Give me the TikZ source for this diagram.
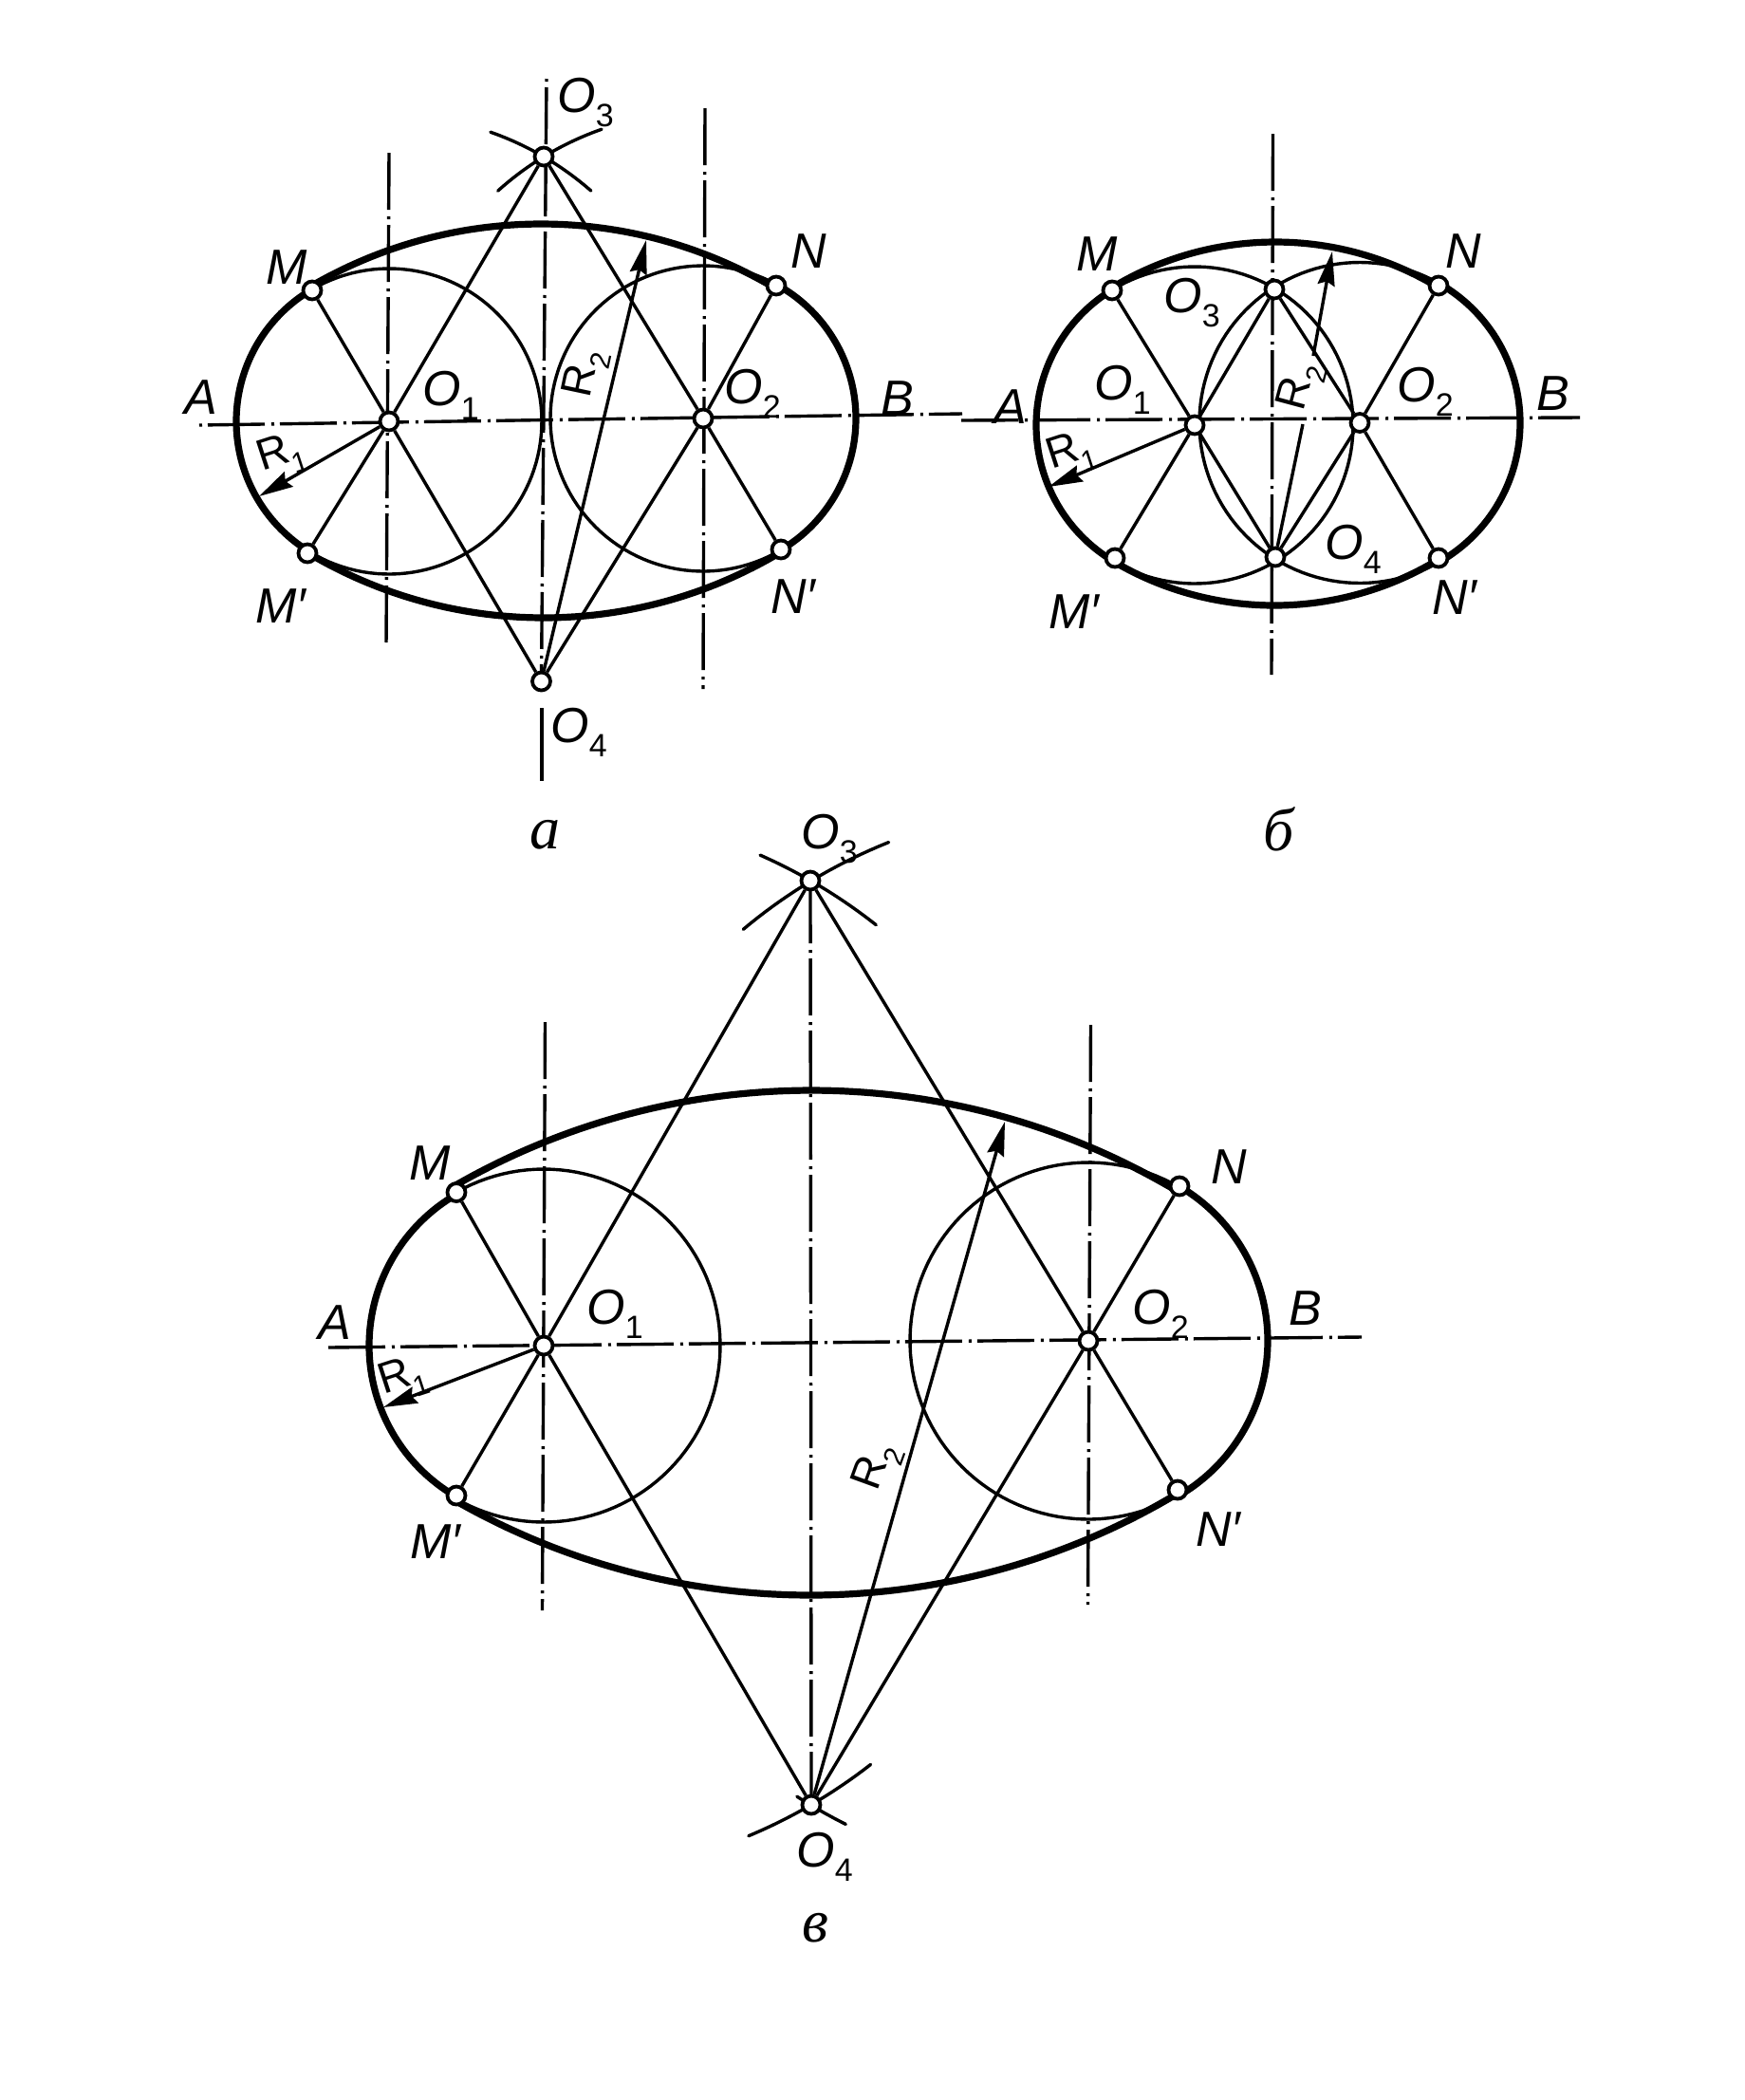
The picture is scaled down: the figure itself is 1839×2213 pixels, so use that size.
\documentclass[tikz,border=0pt]{standalone}
\usepackage{fontspec}
\setmainfont{Liberation Sans}
\newfontfamily\capfont{Liberation Serif}
\usetikzlibrary{arrows.meta}
\newcommand{\parc}[8][arcthin]{%
  \pgfmathsetmacro\sa{atan2(#6-#3,#5-#2)}%
  \pgfmathsetmacro\ea{atan2(#8-#3,#7-#2)}%
  \pgfmathsetmacro\ea{\ea<\sa ? \ea+360 : \ea}%
  \draw[#1] plot[domain=\sa:\ea,samples=90,variable=\t] ({#2+#4*cos(\t)},{#3+#4*sin(\t)});}
\newcommand{\Ol}[2]{\textit{#1}\raisebox{-0.3em}{\fontsize{17}{17}\selectfont #2}}
\newcommand{\Rl}[1]{R\raisebox{-0.3em}{\fontsize{15}{15}\selectfont #1}}
\tikzset{
  arcthin/.style={line width=1.7pt,line cap=round,line join=round},
  arcthick/.style={line width=3.6pt,line cap=round,line join=round},
  axisline/.style={line width=1.7pt,dash pattern=on 30pt off 3.5pt on 1.5pt off 3pt},
  conn/.style={line width=1.7pt},
  dimarrow/.style={line width=1.7pt,-{Stealth[length=18pt,width=9pt,inset=2pt]}},
  ptnode/.style={circle,draw,fill=white,line width=1.9pt,inner sep=0pt,minimum size=9.5pt},
  lbl/.style={font=\fontsize{26}{26}\selectfont\itshape,inner sep=0pt},
  sublbl/.style={font=\fontsize{26}{26}\selectfont,inner sep=0pt},
  rlbl/.style={font=\fontsize{23}{23}\selectfont,inner sep=0pt},
  caplbl/.style={font=\fontsize{32}{32}\selectfont\capfont\itshape,inner sep=0pt},
}
\begin{document}
\begin{tikzpicture}[x=0.5pt,y=-0.5pt]
\useasboundingbox (0,0) rectangle (1839,2213);
%% figure a --------------------------------------------------
\coordinate (aHl) at (210,448); \coordinate (aHr) at (1014,436);
\coordinate (aV1t) at (410,161); \coordinate (aV1b) at (407,682);
\coordinate (aV2t) at (743,114); \coordinate (aV2b) at (741,726);
\coordinate (aV3t) at (576,83);  \coordinate (aV3b) at (571,823);
\coordinate (aV3m) at (571,746);
\draw[axisline,dash phase=33.5pt] (aHl) -- (aHr);
\draw[axisline] (aV1t) -- (aV1b);
\draw[axisline] (aV2t) -- (aV2b);
\draw[axisline,dash phase=33.5pt] (aV3t) -- (570.5,718);
\draw[conn] (aV3m) -- (aV3b);
\parc{410}{444}{161}{329}{306}{324}{583}
\parc{741}{441}{161}{823}{579}{818}{301}
\parc[arcthick]{410}{444}{161}{324}{583}{329}{306}
\parc[arcthick]{741}{441}{161}{818}{301}{823}{579}
\parc[arcthick]{570.5}{718}{482}{329}{306}{818}{301}
\parc[arcthick]{573}{165}{486}{823}{579}{324}{583}
\parc{741}{441}{323}{521}{197}{635}{139}
\parc{410}{444}{323}{518}{136}{622}{202}
\node[ptnode] (aO1) at (410,444) {};
\node[ptnode] (aO2) at (741,441) {};
\node[ptnode] (aO3) at (573,165) {};
\node[ptnode] (aO4) at (570.5,718) {};
\node[ptnode] (aM) at (329,306) {};
\node[ptnode] (aN) at (818,301) {};
\node[ptnode] (aMp) at (324,583) {};
\node[ptnode] (aNp) at (823,579) {};
\coordinate (aR1t) at (273,523); \coordinate (aR2t) at (681,253);
\foreach \p/\q in {aM/aO1,aO1/aO4,aMp/aO1,aO1/aO3,aN/aO2,aO2/aO4,aNp/aO2,aO2/aO3}
  \draw[conn] (\p) -- (\q);
\draw[dimarrow] (aO1) -- (aR1t);
\draw[dimarrow] (aO4) -- (aR2t);
\node[sublbl] (alO3) at (617,108) {\Ol{O}{3}};
\node[sublbl] (alO4) at (610,772) {\Ol{O}{4}};
\node[sublbl] (alO1) at (475,417) {\Ol{O}{1}};
\node[sublbl] (alO2) at (793,415) {\Ol{O}{2}};
\node[lbl] (alM) at (302,282) {M};
\node[lbl] (alN) at (852,265) {N};
\node[lbl] (alMp) at (296,639) {M′};
\node[lbl] (alNp) at (836,629) {N′};
\node[lbl] (alA) at (212,419) {A};
\node[lbl] (alB) at (946,420) {B};
\node[rlbl,rotate=18] (alR1) at (297,480) {\Rl{1}};
\node[rlbl,rotate=78] (alR2) at (618,394) {\Rl{2}};
\node[caplbl] (capa) at (574,880) {а};
%% figure b --------------------------------------------------
\coordinate (bHl) at (1013,443); \coordinate (bHr) at (1665,440);
\coordinate (bVt) at (1341.5,141); \coordinate (bVb) at (1340,711);
\draw[axisline] (bHl) -- (bHr);
\draw[axisline] (bVt) -- (bVb);
\parc{1259}{448}{167}{1172}{306}{1175}{588}
\parc{1433}{445.5}{169}{1516}{588}{1516}{301}
\parc[arcthick]{1259}{448}{167}{1175}{588}{1172}{306}
\parc[arcthick]{1433}{445.5}{169}{1516}{301}{1516}{588}
\parc[arcthick]{1344}{587}{332}{1172}{306}{1516}{301}
\parc[arcthick]{1343}{305}{333}{1516}{588}{1175}{588}
\node[ptnode] (bO1) at (1259,448) {};
\node[ptnode] (bO2) at (1433,445.5) {};
\node[ptnode] (bO3) at (1343,305) {};
\node[ptnode] (bO4) at (1344,587) {};
\node[ptnode] (bM) at (1172,306) {};
\node[ptnode] (bN) at (1516,301) {};
\node[ptnode] (bMp) at (1175,588) {};
\node[ptnode] (bNp) at (1516,588) {};
\coordinate (bR1t) at (1105,513); \coordinate (bR2t) at (1404,265);
\coordinate (bR2a) at (1373,447); \coordinate (bR2b) at (1384,375);
\foreach \p/\q in {bM/bO1,bO1/bO4,bMp/bO1,bO1/bO3,bN/bO2,bO2/bO4,bNp/bO2,bO2/bO3}
  \draw[conn] (\p) -- (\q);
\draw[dimarrow] (bO1) -- (bR1t);
\draw[conn] (bO4) -- (bR2a);
\draw[dimarrow] (bR2b) -- (bR2t);
\node[sublbl] (blO3) at (1256,319) {\Ol{O}{3}};
\node[sublbl] (blO4) at (1426,579) {\Ol{O}{4}};
\node[sublbl] (blO1) at (1183,411) {\Ol{O}{1}};
\node[sublbl] (blO2) at (1502,413) {\Ol{O}{2}};
\node[lbl] (blM) at (1156,268) {M};
\node[lbl] (blN) at (1542,265) {N};
\node[lbl] (blMp) at (1132,645) {M′};
\node[lbl] (blNp) at (1533,630) {N′};
\node[lbl] (blA) at (1065,429) {A};
\node[lbl] (blB) at (1637,415) {B};
\node[rlbl,rotate=18] (blR1) at (1129,478) {\Rl{1}};
\node[rlbl,rotate=75] (blR2) at (1371,408) {\Rl{2}};
\node[caplbl] (capb) at (1348,874) {б};
%% figure c --------------------------------------------------
\coordinate (cHl) at (346,1420); \coordinate (cHr) at (1435,1409);
\coordinate (cV1t) at (574.5,1077); \coordinate (cV1b) at (571.5,1697);
\coordinate (cV2t) at (1149.5,1080); \coordinate (cV2b) at (1146.5,1691);
\coordinate (cV3t) at (854,934); \coordinate (cV3b) at (855,1902);
\draw[axisline] (cHl) -- (cHr);
\draw[axisline] (cV1t) -- (cV1b);
\draw[axisline] (cV2t) -- (cV2b);
\draw[axisline] (cV3t) -- (cV3b);
\parc{573}{1418}{186}{481}{1256.5}{481}{1576}
\parc{1147}{1413}{188}{1241}{1570}{1243}{1250}
\parc[arcthick]{573}{1418}{184}{481}{1576}{481}{1256.5}
\parc[arcthick]{1147}{1413}{189}{1243}{1250}{1241}{1570}
\parc[arcthick]{855}{1902}{753}{481}{1256.5}{1243}{1250}
\parc[arcthick]{854}{928}{753}{1241}{1570}{481}{1576}
\parc{1147}{1413}{566}{783}{979}{938}{891}
\parc{573}{1418}{565}{802}{899}{927}{970}
\parc{573}{1418}{560}{918}{1860}{789}{1935}
\parc{1147}{1413}{570}{890}{1925}{847}{1882}
\node[ptnode] (cO1) at (573,1418) {};
\node[ptnode] (cO2) at (1147,1413) {};
\node[ptnode] (cO3) at (854,928) {};
\node[ptnode] (cO4) at (855,1902) {};
\node[ptnode] (cM) at (481,1256.5) {};
\node[ptnode] (cN) at (1243,1250) {};
\node[ptnode] (cMp) at (481,1576) {};
\node[ptnode] (cNp) at (1241,1570) {};
\coordinate (cR1t) at (404,1483); \coordinate (cR2t) at (1059,1182);
\foreach \p/\q in {cM/cO1,cO1/cO4,cMp/cO1,cO1/cO3,cN/cO2,cO2/cO4,cNp/cO2,cO2/cO3}
  \draw[conn] (\p) -- (\q);
\draw[dimarrow] (cO1) -- (cR1t);
\draw[dimarrow] (cO4) -- (cR2t);
\node[sublbl] (clO3) at (874,884) {\Ol{O}{3}};
\node[sublbl] (clO4) at (869,1957) {\Ol{O}{4}};
\node[sublbl] (clO1) at (648,1385) {\Ol{O}{1}};
\node[sublbl] (clO2) at (1223,1385) {\Ol{O}{2}};
\node[lbl] (clM) at (453,1226) {M};
\node[lbl] (clN) at (1295,1230) {N};
\node[lbl] (clMp) at (459,1625) {M′};
\node[lbl] (clNp) at (1284,1612) {N′};
\node[lbl] (clA) at (353,1394) {A};
\node[lbl] (clB) at (1376,1379) {B};
\node[rlbl,rotate=18] (clR1) at (425,1453) {\Rl{1}};
\node[rlbl,rotate=70] (clR2) at (925,1546) {\Rl{2}};
\node[caplbl] (capc) at (859,2032) {в};
\end{tikzpicture}
\end{document}
